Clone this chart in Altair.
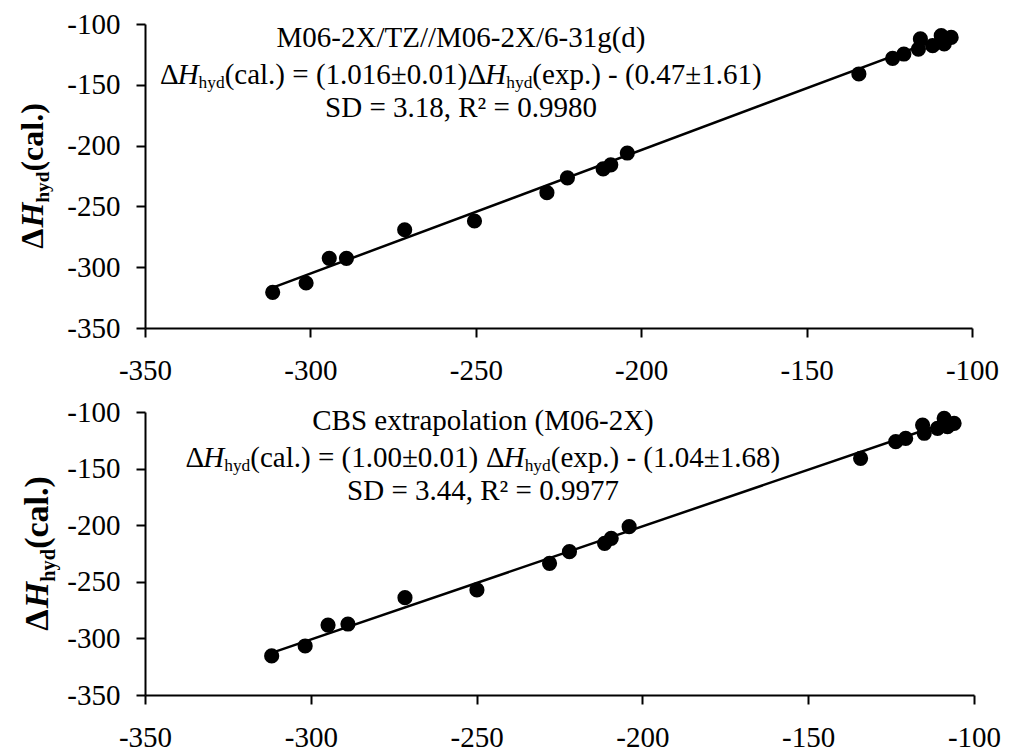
import altair as alt
import pandas as pd

# ---------------- data ----------------
# Upper panel: M06-2X/TZ//M06-2X/6-31g(d)
exp_a = [-311.4, -301.3, -294.3, -289.1, -271.5, -250.4, -228.5, -222.3, -211.5, -209.2,
         -204.2, -134.2, -124.0, -120.6, -116.2, -115.6, -111.9, -109.3, -108.4, -106.3]
cal_a = [-320.7, -313.0, -292.7, -292.7, -269.2, -262.0, -238.7, -226.5, -219.2, -215.8,
         -206.1, -141.1, -128.3, -124.7, -120.6, -112.3, -117.8, -109.6, -116.4, -111.0]

# Lower panel: CBS extrapolation (M06-2X)
exp_b = [-311.8, -301.7, -294.8, -288.8, -271.6, -249.9, -228.0, -222.0, -211.4, -209.4,
         -204.0, -134.2, -123.6, -120.6, -115.5, -115.0, -111.0, -109.0, -108.0, -106.0]
cal_b = [-315.5, -306.7, -288.2, -287.3, -264.0, -257.2, -233.7, -223.4, -216.0, -211.6,
         -201.3, -140.9, -126.2, -123.3, -111.5, -118.8, -114.4, -105.6, -113.0, -110.0]

# fitted lines: cal = slope * exp + intercept
fit_a = (1.016, -0.47)
fit_b = (1.00, -1.04)

ticks = [-350, -300, -250, -200, -150, -100]

title_a = "M06-2X/TZ//M06-2X/6-31g(d)"
eq_a = ["(cal.) = (1.016±0.01)", "(exp.) - (0.47±1.61)"]
stats_a = "SD = 3.18, R² = 0.9980"

title_b = "CBS extrapolation (M06-2X)"
eq_b = ["(cal.) = (1.00±0.01) ", "(exp.) - (1.04±1.68)"]
stats_b = "SD = 3.44, R² = 0.9977"

# ---------------- styling ----------------
FONT = "Liberation Serif"
LABEL_SIZE = 29
NOTE_SIZE = 29
SUB = 0.6

# Times-compatible advance widths (em units) for placing runs of mixed text
REG = {" ": 0.25, "(": 0.333, ")": 0.333, ".": 0.25, ",": 0.25, "-": 0.333, "/": 0.278,
       "=": 0.564, "±": 0.564, "Δ": 0.612, "a": 0.444, "c": 0.444, "d": 0.5, "e": 0.444,
       "h": 0.5, "l": 0.278, "p": 0.5, "x": 0.5, "y": 0.5, "H": 0.722}
for _d in "0123456789":
    REG[_d] = 0.5
BOLD = {"Δ": 0.667, "H": 0.778, "(": 0.333, ")": 0.333, "c": 0.444, "a": 0.5, "l": 0.278,
        ".": 0.25, "h": 0.556, "y": 0.5, "d": 0.556}


def text_width(s, size, table):
    return size * sum(table.get(ch, 0.5) for ch in s)


def text_layer(s, x, y, size, style="normal", weight="normal", angle=0, align="left"):
    return alt.Chart(pd.DataFrame({"t": [s]})).mark_text(
        font=FONT, fontSize=size, fontStyle=style, fontWeight=weight, angle=angle,
        align=align, baseline="alphabetic", color="black"
    ).encode(text="t:N", x=alt.value(x), y=alt.value(y))


def equation_layers(rest, cx, y, size):
    parts = [("Δ", "r"), ("H", "i"), ("hyd", "s"), (rest[0], "r"),
             ("Δ", "r"), ("H", "i"), ("hyd", "s"), (rest[1], "r")]
    runs = []
    for txt, kind in parts:
        fs = size * SUB if kind == "s" else size
        runs.append((txt, kind, fs, text_width(txt, fs, REG)))
    x = cx - sum(r[3] for r in runs) / 2
    layers = []
    for txt, kind, fs, w in runs:
        dy = 0.13 * size if kind == "s" else 0
        style = "italic" if kind == "i" else "normal"
        layers.append(text_layer(txt, x, y + dy, fs, style=style))
        x += w
    return layers


def ytitle_layers(xb, cy, size):
    parts = [("Δ", "b"), ("H", "bi"), ("hyd", "s"), ("(cal.)", "b")]
    runs = []
    for txt, kind in parts:
        fs = size * SUB if kind == "s" else size
        runs.append((txt, kind, fs, text_width(txt, fs, BOLD)))
    y = cy + sum(r[3] for r in runs) / 2
    layers = []
    for txt, kind, fs, w in runs:
        dx = 0.2 * size if kind == "s" else 0
        style = "italic" if kind == "bi" else "normal"
        layers.append(text_layer(txt, xb + dx, y, fs, style=style, weight="bold", angle=270))
        y -= w
    return layers


def axis(pad):
    return alt.Axis(values=ticks, title=None, labelPadding=pad, labelFlush=False,
                    labelOverlap=False, labelExpr="toString(datum.value)",
                    labelFont=FONT, labelFontSize=LABEL_SIZE, labelColor="black")


def panel(exp, cal, fit, title, eq, stats, w, h, cx, base, ytitle_x, ytitle_size):
    df = pd.DataFrame({"exp": exp, "cal": cal})
    lo, hi = min(exp), max(exp)
    line_df = pd.DataFrame({"exp": [lo, hi], "cal": [fit[0] * lo + fit[1], fit[0] * hi + fit[1]]})

    xenc = alt.X("exp:Q", scale=alt.Scale(domain=[-350, -100], nice=False, zero=False), axis=axis(19))
    yenc = alt.Y("cal:Q", scale=alt.Scale(domain=[-350, -100], nice=False, zero=False), axis=axis(16))

    fit_line = alt.Chart(line_df).mark_line(color="black", strokeWidth=2.5).encode(x=xenc, y=yenc)
    pts = alt.Chart(df).mark_circle(size=230, color="black", opacity=1).encode(x=xenc, y=yenc)

    notes = [text_layer(title, cx, base[0], NOTE_SIZE, align="center")]
    notes += equation_layers(eq, cx, base[1], NOTE_SIZE)
    notes.append(text_layer(stats, cx, base[2], NOTE_SIZE, align="center"))
    notes += ytitle_layers(ytitle_x, h / 2, ytitle_size)

    return alt.layer(fit_line, pts, *notes).properties(width=w, height=h)


top = panel(exp_a, cal_a, fit_a, title_a, eq_a, stats_a, 827, 304,
            cx=316, base=(23, 60, 93), ytitle_x=-102, ytitle_size=32)
bottom = panel(exp_b, cal_b, fit_b, title_b, eq_b, stats_b, 829, 283,
               cx=338, base=(18, 55, 88), ytitle_x=-97, ytitle_size=34)

chart = alt.vconcat(top, bottom, spacing=13).properties(
    padding={"left": 17, "top": 10, "right": 5, "bottom": 0}
).configure(font=FONT).configure_view(stroke=None).configure_axis(
    grid=False, domainColor="black", domainWidth=2, tickColor="black", tickWidth=2,
    tickSize=9, labelFont=FONT, labelFontSize=LABEL_SIZE, labelColor="black"
)

chart.save("out.html", embed_options={"renderer": "svg", "actions": False})
